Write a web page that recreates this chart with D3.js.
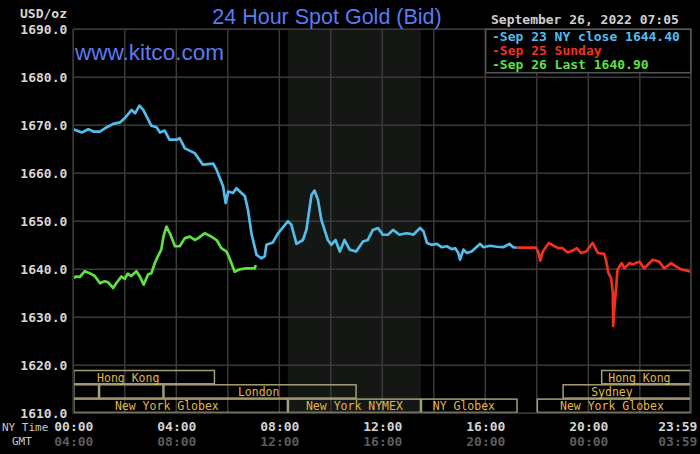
<!DOCTYPE html>
<html>
<head>
<meta charset="utf-8">
<script src="https://cdn.jsdelivr.net/npm/d3@7"></script>
<style>
  body { margin: 0; background: #000; }
  text { font-family: "DejaVu Sans Mono", monospace; }
</style>
</head>
<body>
<script>
// values: [minutes after NY midnight, USD/oz]
var sep23 = [[0,1669.2],[20,1668.5],[35,1669.2],[47,1668.7],[62,1668.7],[78,1669.6],[93,1670.3],[109,1670.6],
  [120,1671.5],[136,1673.2],[144,1672.5],[154,1674.1],[163,1673.2],[182,1669.9],[194,1669.6],[202,1668.5],
  [213,1668.9],[224,1667.0],[241,1667.0],[248,1667.3],[260,1665.2],[283,1664.2],[302,1661.8],[326,1662.0],
  [334,1660.7],[349,1657.3],[355,1653.8],[361,1656.2],[372,1655.9],[380,1656.9],[400,1655.2],[407,1652.4],
  [415,1647.5],[427,1643.0],[438,1642.3],[446,1642.7],[450,1645.1],[465,1645.6],[477,1647.5],[500,1650.0],
  [508,1649.3],[520,1645.3],[535,1646.1],[543,1648.2],[555,1655.5],[562,1656.4],[570,1654.5],[578,1650.3],
  [593,1646.1],[601,1645.1],[611,1646.1],[621,1643.7],[632,1646.1],[644,1644.1],[659,1643.7],[675,1645.8],
  [686,1646.1],[698,1648.2],[710,1648.6],[721,1647.2],[733,1647.2],[745,1648.2],[760,1647.2],[776,1647.5],
  [785,1647.4],[792,1647.2],[808,1648.6],[816,1647.9],[824,1645.5],[835,1645.1],[847,1645.3],[858,1644.6],
  [870,1644.8],[882,1644.2],[890,1644.4],[897,1643.4],[901,1642.0],[909,1644.1],[917,1643.4],[928,1643.7],
  [948,1645.3],[955,1644.6],[971,1644.9],[987,1644.7],[1002,1644.6],[1016,1645.3],[1025,1644.6],[1033,1644.5]];

var sep25 = [[1033,1644.5],[1078,1644.5],[1084,1643.4],[1088,1641.8],[1094,1643.7],[1108,1645.5],[1121,1644.8],
  [1131,1644.4],[1140,1644.4],[1152,1643.5],[1164,1643.9],[1173,1644.4],[1183,1643.4],[1195,1643.7],
  [1210,1645.5],[1222,1643.4],[1237,1643.2],[1241,1642.0],[1247,1639.2],[1253,1638.2],[1257,1635.4],
  [1258,1628.2],[1261,1632.2],[1265,1636.4],[1268,1639.9],[1278,1641.3],[1284,1640.2],[1296,1641.3],
  [1303,1641.0],[1319,1641.6],[1330,1640.2],[1350,1642.0],[1365,1641.6],[1377,1640.2],[1393,1641.3],
  [1404,1640.6],[1416,1640.0],[1439,1639.5]];

var sep26 = [[0,1638.2],[7,1638.5],[15,1638.4],[27,1639.6],[38,1639.2],[50,1638.6],[62,1637.1],[73,1637.5],
  [81,1637.3],[93,1636.1],[100,1637.1],[112,1638.5],[120,1638.0],[127,1639.1],[135,1638.6],[147,1639.6],
  [155,1638.5],[164,1636.8],[174,1638.9],[182,1639.2],[190,1641.3],[197,1642.7],[205,1644.1],[210,1646.8],
  [217,1648.9],[225,1647.5],[237,1644.8],[248,1644.8],[260,1646.5],[272,1646.8],[283,1646.1],[291,1646.5],
  [306,1647.5],[318,1647.0],[334,1646.1],[345,1644.4],[357,1643.7],[364,1642.3],[376,1639.5],[388,1640.0],
  [403,1640.2],[423,1640.2],[425,1640.9]];

var legendItems = ["-Sep 23 NY close 1644.40", "-Sep 25 Sunday", "-Sep 26 Last 1640.90"];
var priceTicks = [1610, 1620, 1630, 1640, 1650, 1660, 1670, 1680, 1690];
var gridTimes = [0, 120, 240, 360, 480, 600, 720, 840, 960, 1080, 1200, 1320, 1439];
var labelTimes = [0, 240, 480, 720, 960, 1200, 1439];
var nymexHours = [500, 810];

// trading sessions: row, start, end, label centre (minutes)
var sessions = [
  {name: "Hong Kong", row: 0, start: 0, end: 330, at: 128},
  {name: "Hong Kong", row: 0, start: 1230, end: 1439, at: 1319},
  {name: "", row: 1, start: 0, end: 60},
  {name: "", row: 1, start: 60, end: 210},
  {name: "London", row: 1, start: 210, end: 660, at: 432},
  {name: "Sydney", row: 1, start: 1140, end: 1439, at: 1255},
  {name: "New York Globex", row: 2, start: 0, end: 500, at: 218},
  {name: "New York NYMEX", row: 2, start: 500, end: 810, at: 655},
  {name: "NY Globex", row: 2, start: 810, end: 1035, at: 910},
  {name: "New York Globex", row: 2, start: 1080, end: 1439, at: 1255}
];

var w = 700, h = 454;
var padL = 73.3, padR = 690.9, padT = 29.3, padB = 413.3;

var svg = d3.select("body").append("svg")
  .attr("width", w).attr("height", h)
  .style("background", "#000");

var x = d3.scaleLinear().domain([0, 1439]).range([padL, padR]);
var y = d3.scaleLinear().domain([1610, 1690]).range([padB, padT]);

function hhmm(m) {
  m = ((m % 1440) + 1440) % 1440;
  return d3.format("02d")(Math.floor(m / 60)) + ":" + d3.format("02d")(m % 60);
}

// NYMEX shading
svg.append("rect")
  .attr("x", x(nymexHours[0])).attr("y", padT)
  .attr("width", x(nymexHours[1]) - x(nymexHours[0]))
  .attr("height", padB - padT)
  .attr("fill", "#141714");

// grid
svg.append("g").selectAll("line")
  .data(priceTicks).enter().append("line")
  .attr("x1", padL).attr("x2", padR)
  .attr("y1", d => y(d)).attr("y2", d => y(d))
  .attr("stroke", "#3a3a3a").attr("stroke-width", 1.5);

svg.append("g").selectAll("line")
  .data(gridTimes).enter().append("line")
  .attr("x1", d => x(d)).attr("x2", d => x(d))
  .attr("y1", padT).attr("y2", padB)
  .attr("stroke", "#3a3a3a").attr("stroke-width", 1.5);

// session boxes
var rowTop = 370.5, rowH = 14.3;
var sess = svg.append("g");
sess.selectAll("rect")
  .data(sessions).enter().append("rect")
  .attr("x", d => x(d.start) + 0.5)
  .attr("y", d => rowTop + d.row * rowH)
  .attr("width", d => x(d.end) - x(d.start) - 1)
  .attr("height", rowH - 1)
  .attr("fill", "none")
  .attr("stroke", "#a59f76")
  .attr("stroke-width", 1.5);

sess.selectAll("text")
  .data(sessions.filter(d => d.name)).enter().append("text")
  .attr("x", d => x(d.at))
  .attr("y", d => rowTop + d.row * rowH + rowH / 2)
  .attr("dy", "0.36em")
  .attr("text-anchor", "middle")
  .attr("font-size", 11.5)
  .attr("fill", "#e2b845")
  .text(d => d.name);

// price lines
var line = d3.line().x(d => x(d[0])).y(d => y(d[1]));
[[sep23, "#52bdec"], [sep25, "#f2301e"], [sep26, "#5fe043"]].forEach(function(s) {
  svg.append("path")
    .datum(s[0])
    .attr("d", line)
    .attr("fill", "none")
    .attr("stroke", s[1])
    .attr("stroke-width", 2.7)
    .attr("stroke-linejoin", "round");
});

// y axis
var yAxis = d3.axisLeft(y).tickValues(priceTicks).tickFormat(d3.format(".1f")).tickSize(0).tickPadding(6);
svg.append("g")
  .attr("transform", "translate(" + padL + ",0)")
  .call(yAxis)
  .call(g => g.select(".domain").remove())
  .call(g => g.selectAll("text")
    .style("font-family", "DejaVu Sans Mono").style("font-size", "13px")
    .style("font-weight", "bold").attr("fill", "#d6d6d6"));

svg.append("text")
  .attr("x", 67).attr("y", 18)
  .attr("text-anchor", "end")
  .attr("font-size", 13).attr("font-weight", "bold")
  .attr("fill", "#d6d6d6")
  .text("USD/oz");

// x axes: NY time and GMT
function timeAxis(offset, yPos, colour) {
  var ax = d3.axisBottom(x).tickValues(labelTimes)
    .tickFormat(d => hhmm(d + offset))
    .tickSize(0).tickPadding(0);
  svg.append("g")
    .attr("transform", "translate(0," + yPos + ")")
    .call(ax)
    .call(g => g.select(".domain").remove())
    .call(g => g.selectAll("text")
      .style("font-family", "DejaVu Sans Mono").style("font-size", "13px")
      .style("font-weight", "bold").attr("fill", colour))
    .call(g => g.selectAll(".tick").filter(d => d === 1439).select("text")
      .attr("text-anchor", "end").attr("x", 6));
}
timeAxis(0, 421.5, "#d4d4d4");
timeAxis(240, 436.5, "#5c5c5c");

svg.append("text").attr("x", 2).attr("y", 431)
  .attr("font-size", 11).attr("fill", "#c8c8c8").text("NY Time");
svg.append("text").attr("x", 12).attr("y", 445)
  .attr("font-size", 11).attr("fill", "#c8c8c8").text("GMT");

// plot frame
svg.append("rect")
  .attr("x", padL).attr("y", padT)
  .attr("width", padR - padL).attr("height", padB - padT)
  .attr("fill", "none").attr("stroke", "#3a3a3a").attr("stroke-width", 1.5);

// title and site
svg.append("text")
  .attr("x", 327).attr("y", 24)
  .attr("text-anchor", "middle")
  .style("font-family", "'Liberation Sans', Arial, sans-serif")
  .style("font-size", "21.5px")
  .attr("fill", "#5b7bf0")
  .text("24 Hour Spot Gold (Bid)");

svg.append("text")
  .attr("x", 75).attr("y", 60)
  .attr("textLength", 149).attr("lengthAdjust", "spacingAndGlyphs")
  .style("font-family", "'Liberation Sans', Arial, sans-serif")
  .style("font-size", "21.5px")
  .attr("fill", "#5b7bf0")
  .text("www.kitco.com");

// date stamp
svg.append("text")
  .attr("x", 491).attr("y", 24)
  .attr("font-size", 13).attr("font-weight", "bold")
  .attr("fill", "#cfcfcf")
  .text("September 26, 2022 07:05");

// legend
var legendColours = ["#52bdec", "#f2301e", "#5fe043"];
svg.append("rect")
  .attr("x", 485.7).attr("y", padT)
  .attr("width", 205).attr("height", 43.4)
  .attr("fill", "#000").attr("stroke", "#555").attr("stroke-width", 1.5);

svg.append("g").selectAll("text")
  .data(legendItems).enter().append("text")
  .attr("x", 492)
  .attr("y", (d, i) => 40.5 + i * 14)
  .attr("font-size", 13).attr("font-weight", "bold")
  .attr("fill", (d, i) => legendColours[i])
  .text(d => d);
</script>
</body>
</html>
